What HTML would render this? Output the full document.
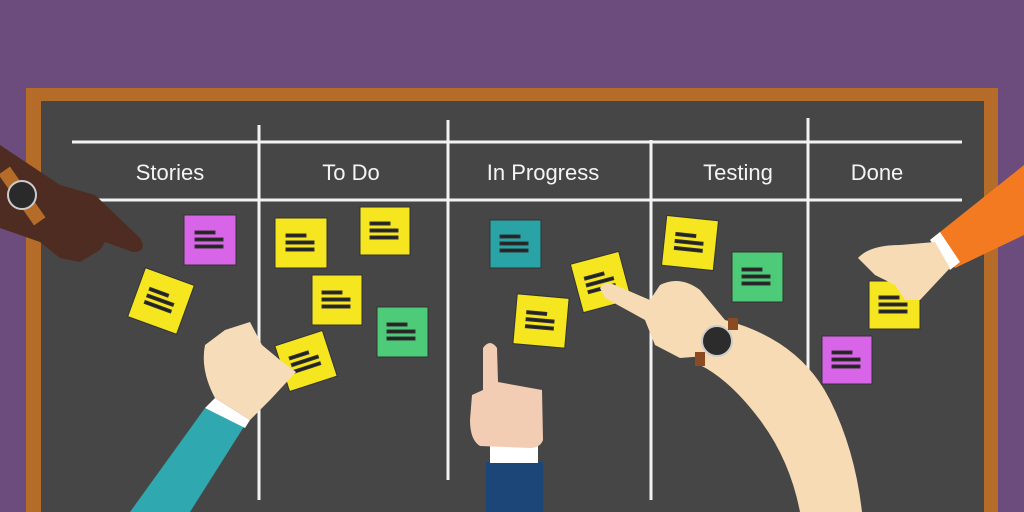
<!DOCTYPE html>
<html><head><meta charset="utf-8"><style>
html,body{margin:0;padding:0;background:#6b4c7c;}
svg{display:block}
text{font-family:"Liberation Sans",sans-serif;}
</style></head><body>
<svg width="1024" height="512" viewBox="0 0 1024 512" xmlns="http://www.w3.org/2000/svg">
<defs>
<g id="lines"><rect x="-15" y="-9" width="20" height="3" fill="#222"/><rect x="-15" y="-2" width="28" height="3" fill="#222"/><rect x="-15" y="5" width="28" height="3" fill="#222"/></g>
</defs>
<rect width="1024" height="512" fill="#6b4c7c"/>
<rect x="26" y="88" width="972" height="430" fill="#b46c28"/>
<rect x="41" y="101" width="943" height="420" fill="#464646"/>
<!-- grid -->
<g stroke="#f2f2f2" stroke-width="3">
<line x1="72" y1="142" x2="962" y2="142"/>
<line x1="72" y1="200" x2="962" y2="200"/>
<line x1="259" y1="125" x2="259" y2="500"/>
<line x1="448" y1="120" x2="448" y2="480"/>
<line x1="651" y1="140" x2="651" y2="500"/>
<line x1="808" y1="118" x2="808" y2="490"/>
</g>
<g fill="#f4f4f4" font-size="22" text-anchor="middle">
<text x="170" y="180">Stories</text>
<text x="351" y="180">To Do</text>
<text x="543" y="180">In Progress</text>
<text x="738" y="180">Testing</text>
<text x="877" y="180">Done</text>
</g>
<!-- notes -->
<g stroke="#333" stroke-width="1">
<g transform="translate(210,240)"><rect x="-26" y="-25" width="52" height="50" fill="#d865e8"/><use href="#lines"/></g>
<g transform="translate(161,301) rotate(20)"><rect x="-26" y="-26" width="52" height="52" fill="#f6e620"/><use href="#lines"/></g>
<g transform="translate(301,243)"><rect x="-26" y="-25" width="52" height="50" fill="#f6e620"/><use href="#lines"/></g>
<g transform="translate(385,231)"><rect x="-25" y="-24" width="50" height="48" fill="#f6e620"/><use href="#lines"/></g>
<g transform="translate(337,300)"><rect x="-25" y="-25" width="50" height="50" fill="#f6e620"/><use href="#lines"/></g>
<g transform="translate(402,332)"><rect x="-25" y="-25" width="51" height="50" fill="#4dcb78"/><use href="#lines"/></g>
<g transform="translate(306,361) rotate(-18)"><rect x="-25" y="-24" width="50" height="48" fill="#f6e620"/><use href="#lines"/></g>
<g transform="translate(515,244)"><rect x="-25" y="-24" width="51" height="48" fill="#2aa3a6"/><use href="#lines"/></g>
<g transform="translate(541,321) rotate(5)"><rect x="-26" y="-25" width="52" height="50" fill="#f6e620"/><use href="#lines"/></g>
<g transform="translate(601,282) rotate(-15)"><rect x="-25" y="-25" width="50" height="50" fill="#f6e620"/><use href="#lines"/></g>
<g transform="translate(690,243) rotate(6)"><rect x="-26" y="-25" width="52" height="50" fill="#f6e620"/><use href="#lines"/></g>
<g transform="translate(757,277)"><rect x="-25" y="-25" width="51" height="50" fill="#4dcb78"/><use href="#lines"/></g>
<g transform="translate(894,305)"><rect x="-25" y="-24" width="51" height="48" fill="#f6e620"/><use href="#lines"/></g>
<g transform="translate(847,360)"><rect x="-25" y="-24" width="50" height="48" fill="#d865e8"/><use href="#lines"/></g>
</g>
<!-- top-left dark hand -->
<path d="M0 145 L30 165 L60 185 L95 195 L140 238 Q148 252 133 252 L105 242 L100 250 L80 262 L60 258 L40 242 L0 228 Z" fill="#4e2c22"/>
<rect x="15" y="165" width="14" height="62" fill="#b46c28" transform="rotate(-35 22 196)"/>
<circle cx="22" cy="195" r="14" fill="#2a2a2a" stroke="#ccc" stroke-width="2"/>
<!-- bottom-left teal arm + hand -->
<path d="M130 512 L205 408 L245 425 L190 512 Z" fill="#2fa8b0"/>
<path d="M205 408 L215 398 L250 420 L245 428 Z" fill="#fff"/>
<path d="M215 398 Q200 370 205 345 L225 330 L250 322 L262 345 L280 360 L296 372 L270 400 L250 420 Z" fill="#f6dcb8"/>
<!-- center hand -->
<rect x="486" y="462" width="57" height="50" fill="#1c4578"/>
<rect x="490" y="446" width="48" height="17" fill="#fff"/>
<path d="M483 348 Q490 338 497 348 L498 382 L542 390 L543 440 Q540 448 530 448 L480 446 Q470 440 470 420 L472 395 L483 390 Z" fill="#f2cdb4"/>
<!-- right arm -->
<path d="M690 340 L725 320 Q800 340 830 400 Q855 450 862 512 L800 512 Q790 460 760 420 Q730 380 700 365 Z" fill="#f7dbb4"/>
<path d="M600 288 Q604 280 615 285 L650 300 L660 285 Q680 275 700 290 L725 320 L718 355 L680 358 L655 345 L645 320 L605 298 Z" fill="#f7dbb4"/>
<circle cx="717" cy="341" r="15" fill="#2c2c2c" stroke="#ccc" stroke-width="2"/>
<rect x="728" y="318" width="10" height="12" fill="#8a4a22"/>
<rect x="695" y="352" width="10" height="14" fill="#8a4a22"/>
<!-- top-right orange arm -->
<path d="M1024 165 L1024 235 L955 268 L930 240 Z" fill="#f37a20"/>
<path d="M930 240 L940 232 L960 262 L950 270 Z" fill="#fff"/>
<path d="M858 258 Q870 245 900 245 L935 242 L950 268 L920 300 L905 300 L895 285 L875 275 Z" fill="#f7dbb4"/>
</svg>
</body></html>
